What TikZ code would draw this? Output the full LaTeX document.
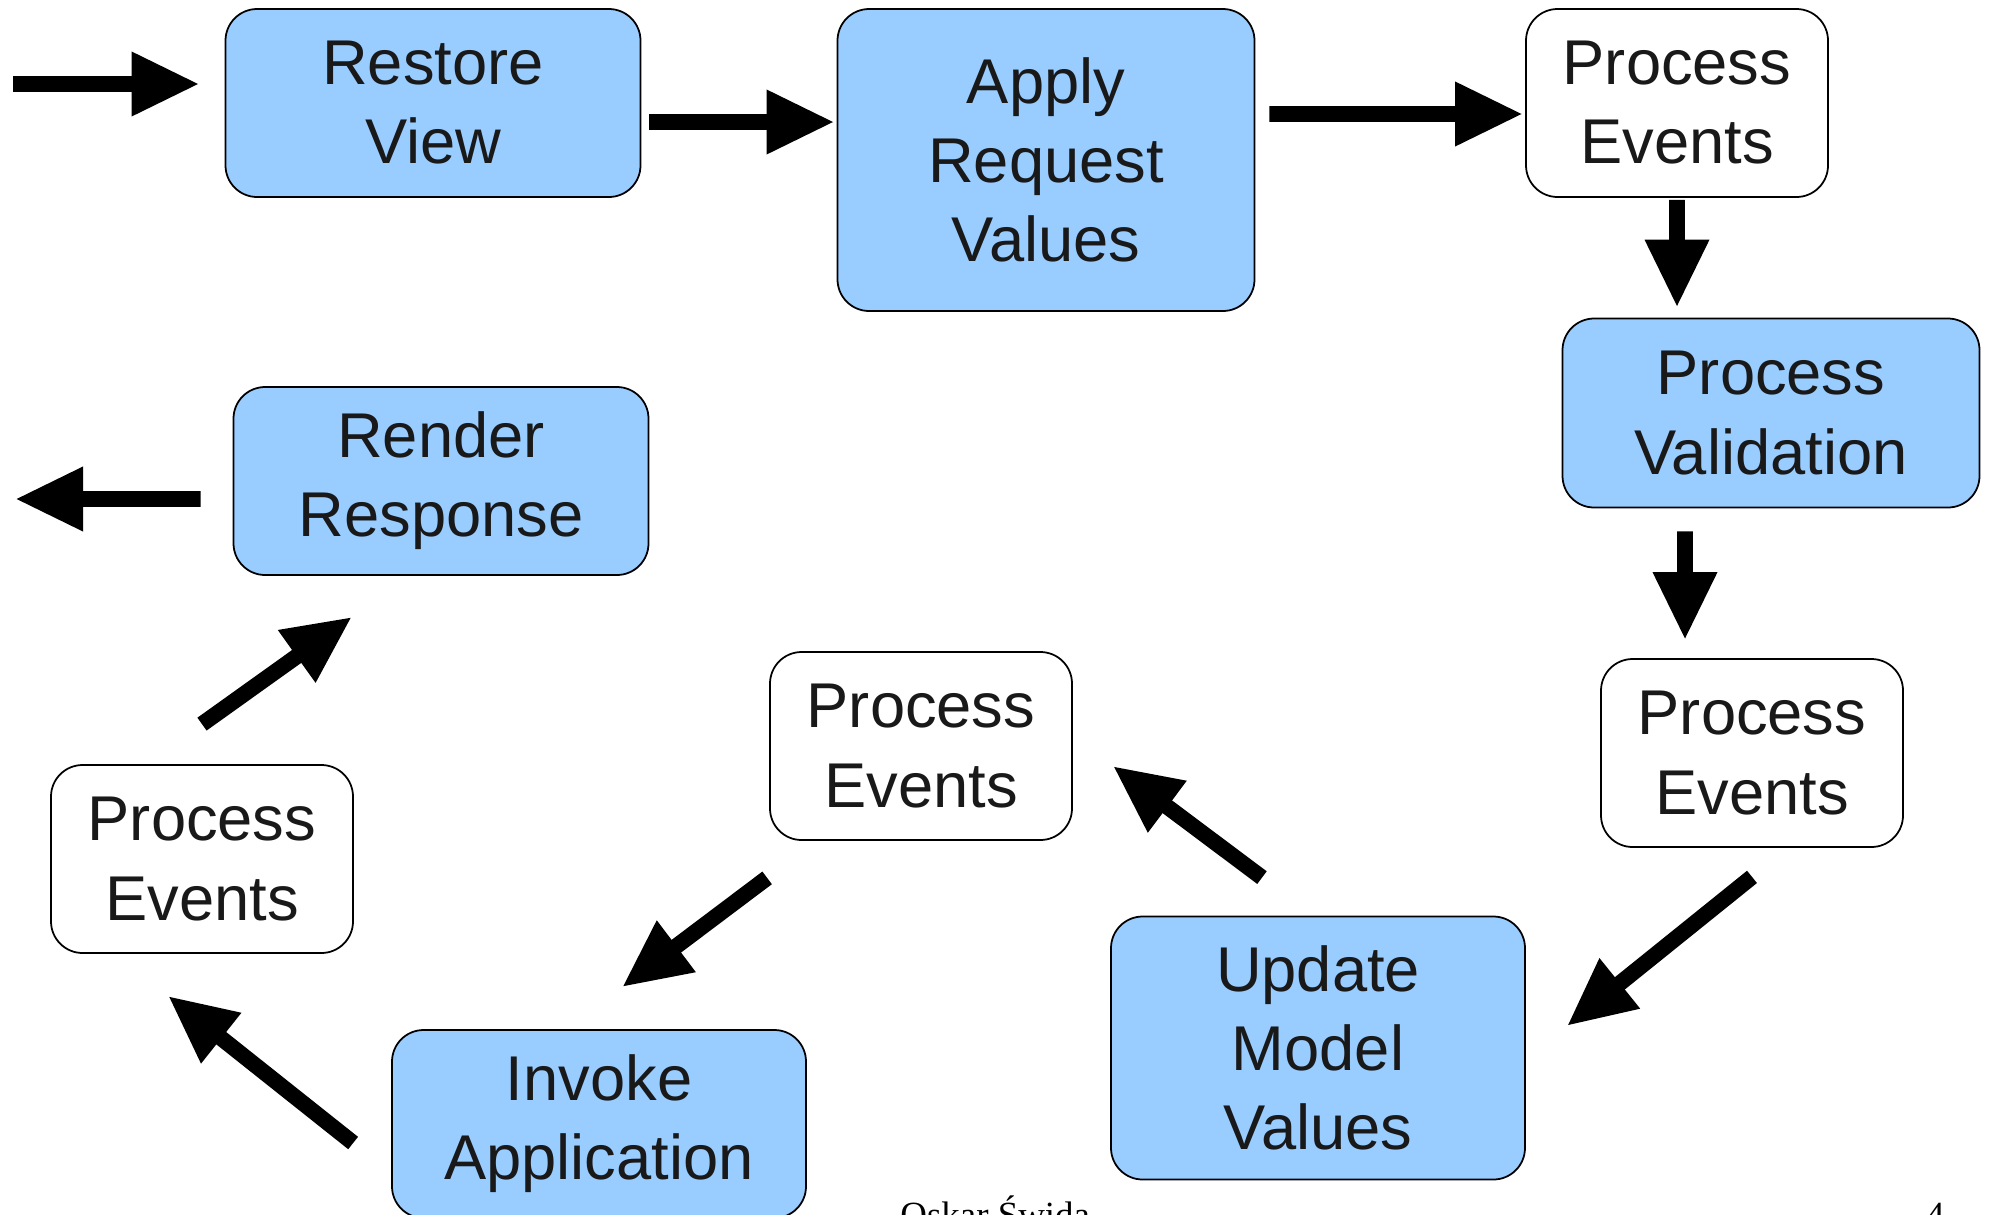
\documentclass[tikz,border=0pt]{standalone}
\usepackage{fontspec}
\setmainfont{Liberation Serif}
\setsansfont{Liberation Sans}
\usetikzlibrary{arrows.meta}
\definecolor{phase}{RGB}{153, 204, 255}
\tikzset{
    box/.style={rectangle, rounded corners=9pt, draw=black, line width=0.5pt, align=center, font=\sffamily\fontsize{18}{22.5}\selectfont, text=black!90, inner sep=0pt},
    phasebox/.style={box, fill=phase, minimum width=4.15cm, minimum height=1.88cm},
    eventbox/.style={box, fill=white, minimum width=3.02cm, minimum height=1.88cm},
    arr/.style={-{Triangle[length=6.8mm, width=6mm]}, line width=4.5pt, black},
    footer/.style={font=\rmfamily\fontsize{10.5}{12}\selectfont}
}

\begin{document}
\begin{tikzpicture}
        \clip (0,0) rectangle (19.91,-12.15);
        \node[phasebox] (restore) at (4.33,-1.03) {Restore\\View};
        \node[phasebox, minimum width=4.17cm, minimum height=3.02cm] (apply) at (10.46,-1.60) {Apply\\Request\\Values};
        \node[eventbox] (eventsA) at (16.77,-1.03) {Process\\Events};
        \node[phasebox, minimum width=4.17cm, minimum height=1.89cm] (valid) at (17.71,-4.13) {Process\\Validation};
        \node[eventbox] (eventsB) at (17.52,-7.53) {Process\\Events};
        \node[phasebox, minimum width=4.14cm, minimum height=2.63cm] (update) at (13.18,-10.48) {Update\\Model\\Values};
        \node[eventbox] (eventsC) at (9.21,-7.46) {Process\\Events};
        \node[phasebox, minimum width=4.14cm] (invoke) at (5.99,-11.24) {Invoke\\Application};
        \node[eventbox] (eventsD) at (2.02,-8.59) {Process\\Events};
        \node[phasebox] (render) at (4.41,-4.81) {Render\\Response};
        \coordinate (enter) at (0.13,-0.84);
        \coordinate (leave) at (0.15,-4.99);
        \draw[arr] (enter)--([shift={(-0.25,0.19)}]restore.west);
        \draw[arr] ([shift={(0.08,-0.19)}]restore.east)--([shift={(-0.02,0.38)}]apply.west);
        \draw[arr] ([shift={(0.14,0.46)}]apply.east)--([shift={(-0.02,-0.11)}]eventsA.west);
        \draw[arr] ([shift={(0,-0.02)}]eventsA.south)--([shift={(-0.94,0.10)}]valid.north);
        \draw[arr] ([shift={(-0.86,-0.23)}]valid.south)--([shift={(-0.67,0.18)}]eventsB.north);
        \draw[arr] ([shift={(0,-0.29)}]eventsB.south)--([shift={(0.41,0.22)}]update.east);
        \draw[arr] ([shift={(-0.56,0.38)}]update.north)--([shift={(0.40,-0.20)}]eventsC.east);
        \draw[arr] ([shift={(-0.02,-0.37)}]eventsC.south west)--([shift={(0.23,0.42)}]invoke.north);
        \draw[arr] ([shift={(-0.38,-0.19)}]invoke.west)--([shift={(-0.34,-0.42)}]eventsD.south);
        \draw[arr] ([shift={(0,0.40)}]eventsD.north)--([shift={(-0.89,-0.41)}]render.south);
        \draw[arr] ([shift={(-0.32,-0.18)}]render.west)--(leave);
        \node[footer, anchor=base west] (author) at (8.88,-12.27) {Oskar Świda};
        \node[footer, anchor=base east] (page) at (19.57,-12.27) {4};
    \end{tikzpicture}
\end{document}
